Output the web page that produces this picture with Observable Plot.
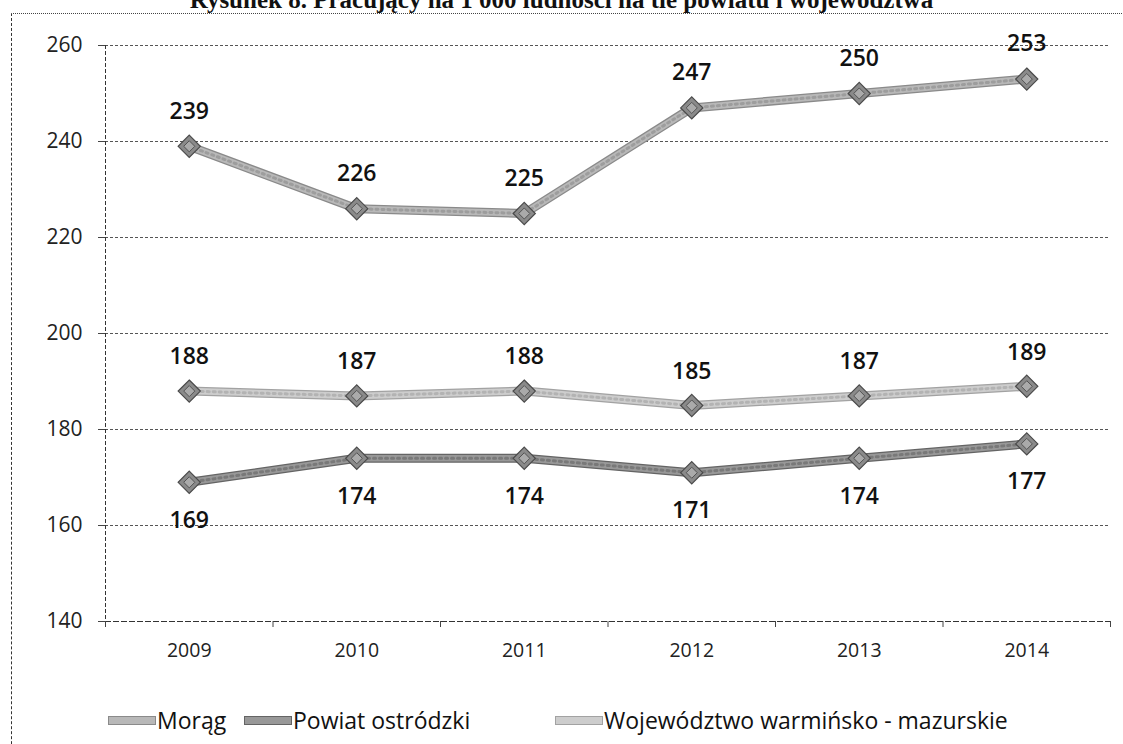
<!DOCTYPE html>
<html><head><meta charset="utf-8">
<script src="https://cdn.jsdelivr.net/npm/d3@7"></script>
<script src="https://cdn.jsdelivr.net/npm/@observablehq/plot@0.6"></script>
<style>
body{margin:0;background:#fff;}
#wrap{position:relative;width:1123px;height:744px;overflow:hidden;background:#fff;font-family:"Open Sans",sans-serif;}
#title{position:absolute;left:0;width:1123px;top:-15px;text-align:center;font-weight:bold;font-size:25px;font-family:"Liberation Serif","DejaVu Serif",serif;line-height:30px;color:#111;white-space:nowrap;}
#frame{position:absolute;left:11px;top:13px;width:1200px;height:800px;border-top:1px dotted #444;border-left:1px dashed #333;}
#chart{position:absolute;left:0;top:0;}
.leg{position:absolute;top:704px;display:flex;align-items:center;font-size:23px;color:#111;white-space:nowrap;}
.sw{width:48px;height:9px;margin-right:1px;box-sizing:border-box;border:1px solid;}
</style></head>
<body><div id="wrap">
<div id="frame"></div>
<div id="title">Rysunek 8. Pracujący na 1 000 ludności na tle powiatu i województwa</div>
<div id="chart"></div>
<div id="legend"></div>
</div>
<script>
const years = [2009, 2010, 2011, 2012, 2013, 2014];
const seriesNames = ["Morąg", "Powiat ostródzki", "Województwo warmińsko - mazurskie"];
const moragValues = [239, 226, 225, 247, 250, 253];
const powiatValues = [169, 174, 174, 171, 174, 177];
const wojewodztwoValues = [188, 187, 188, 185, 187, 189];
const yTicks = [140, 160, 180, 200, 220, 240, 260];

const seriesValues = [moragValues, powiatValues, wojewodztwoValues];
const seriesFill = ["#b8b8b8", "#989898", "#cdcdcd"];
const seriesEdge = ["#8a8a8a", "#646464", "#a2a2a2"];
const labelDy = [-35, 38, -34];
const legendLeft = [108, 244, 555];

const rows = seriesNames.flatMap((s, i) => years.map((yr, j) => ({series: s, year: yr, value: seriesValues[i][j]})));
const boundaries = d3.range(years[0] - 0.5, years[years.length - 1] + 1, 1);

const marks = [
  Plot.ruleY(yTicks.slice(1), {stroke: "#555", strokeDasharray: "3,2", strokeWidth: 1}),
  Plot.ruleX([boundaries[0]], {stroke: "#333", strokeDasharray: "4,2", strokeWidth: 1}),
  Plot.ruleY([yTicks[0]], {stroke: "#333", strokeDasharray: "6,2", strokeWidth: 1}),
  Plot.axisY({ticks: yTicks, tickSize: 7, tickPadding: 16, fontSize: 21, label: null, stroke: "#444"}),
  Plot.axisX({ticks: boundaries, tickSize: 6, tickFormat: () => "", label: null, stroke: "#444"}),
  Plot.axisX({ticks: years, tickSize: 0, tickPadding: 22, fontSize: 19.5, tickFormat: d => String(d), label: null})
];

seriesNames.forEach((s, i) => {
  const d = rows.filter(r => r.series === s);
  marks.push(Plot.line(d, {x: "year", y: "value", stroke: seriesEdge[i], strokeWidth: 9}));
  marks.push(Plot.line(d, {x: "year", y: "value", stroke: seriesFill[i], strokeWidth: 6.5}));
  marks.push(Plot.line(d, {x: "year", y: "value", stroke: seriesEdge[i], strokeWidth: 3, strokeDasharray: "2,4", strokeOpacity: 0.6}));
});
seriesNames.forEach((s, i) => {
  const d = rows.filter(r => r.series === s);
  marks.push(Plot.dot(d, {x: "year", y: "value", symbol: "diamond2", r: 10, fill: "#8a8a8a", stroke: "#4a4a4a", strokeWidth: 1.2}));
  marks.push(Plot.dot(d, {x: "year", y: "value", symbol: "diamond2", r: 5, fill: "#aaa", stroke: "#555", strokeWidth: 1}));
  marks.push(Plot.text(d, {x: "year", y: "value", text: r => String(r.value), dy: labelDy[i], fontSize: 23, fontWeight: 600, fill: "#111"}));
});

const chart = Plot.plot({
  width: 1123, height: 675,
  marginLeft: 105, marginRight: 13, marginTop: 45, marginBottom: 54,
  x: {type: "linear", domain: [boundaries[0], boundaries[boundaries.length - 1]]},
  y: {domain: [yTicks[0], yTicks[yTicks.length - 1]]},
  style: {fontFamily: "Open Sans", color: "#222", background: "transparent"},
  marks
});
document.getElementById("chart").appendChild(chart);

const legend = document.getElementById("legend");
seriesNames.forEach((s, i) => {
  const item = document.createElement("div");
  item.className = "leg";
  item.style.left = legendLeft[i] + "px";
  const sw = document.createElement("div");
  sw.className = "sw";
  sw.style.background = seriesFill[i];
  sw.style.borderColor = seriesEdge[i];
  const t = document.createElement("span");
  t.textContent = s;
  item.appendChild(sw); item.appendChild(t);
  legend.appendChild(item);
});
</script>
</body></html>
